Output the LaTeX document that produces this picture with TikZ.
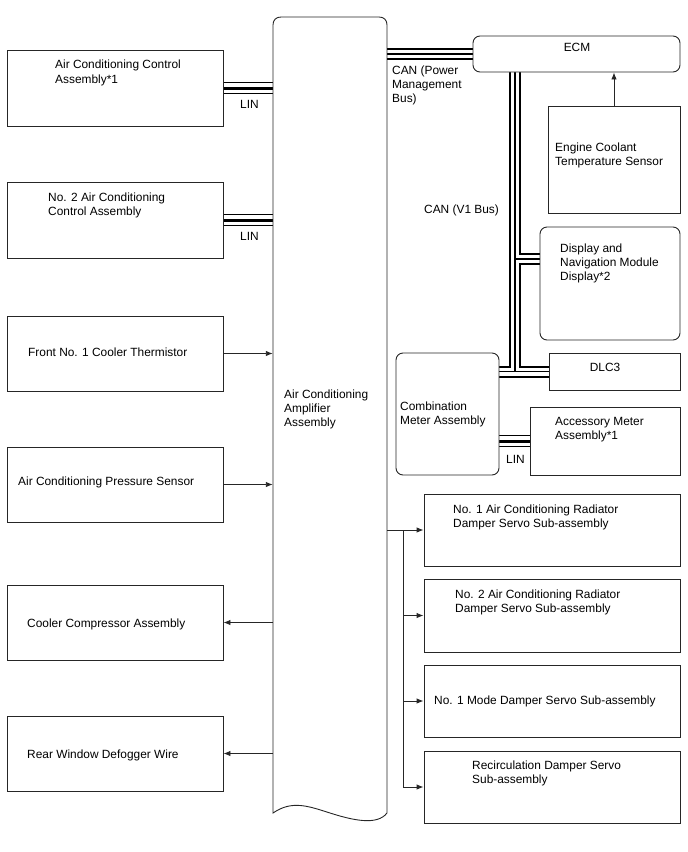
\documentclass[tikz,border=0pt]{standalone}
\usepackage{fontspec}
\setmainfont{Liberation Sans}
\usetikzlibrary{arrows.meta,backgrounds}
\begin{document}
\begin{tikzpicture}[x=1pt,y=-1pt,
  outl/.style={draw=black!85, line width=0.9pt},
  box/.style 2 args={outl, fill=white, inner sep=0pt, minimum width=#1, minimum height=#2},
  rbox/.style 2 args={box={#1}{#2}, rounded corners=7pt},
  ghost/.style 2 args={draw=none, inner sep=0pt, minimum width=#1, minimum height=#2},
  txt/.style={anchor=west, inner sep=0pt, align=left, font=\fontsize{11.9}{14}\selectfont},
  ctxt/.style={txt, anchor=center, align=center},
  arr/.style={outl, -{Latex[length=7pt,width=5.5pt]}},
  wire/.style={outl},
  canO/.style={line width=12pt, black},
  canW/.style={line width=8pt, white},
  canC/.style={line width=1.2pt, black},
  linO/.style={line width=12pt, black},
  linW/.style={line width=10pt, white},
  linC/.style={line width=3pt, black}]
\useasboundingbox (0,0) rectangle (688,852);

% amplifier
\node[ghost={114}{796}] (amp) at (330,415) {};
\draw[outl] (273,813) -- (273,25) .. controls (273,20) and (276,17) .. (281,17)
  -- (379,17) .. controls (384,17) and (387,20) .. (387,25) -- (387,813)
  .. controls (377,826) and (352,820) .. (330,813)
  .. controls (308,806) and (292,800) .. (273,813) -- cycle;
\node[txt] (ampt) at (284,409) {Air Conditioning\\Amplifier\\Assembly};

% left boxes
\node[box={216}{76}] (b1) at (115,88) {};
\node[box={216}{76}] (b2) at (115,220) {};
\node[box={216}{75}] (b3) at (115,353.5) {};
\node[box={216}{75}] (b4) at (115,484.5) {};
\node[box={216}{75}] (b5) at (115,622.5) {};
\node[box={216}{75}] (b6) at (115,753.5) {};
\node[txt] (t1) at (55,73) {Air Conditioning Control\\[1.5pt]Assembly*1};
\node[txt] (t2) at (48,205) {No. 2 Air Conditioning\\Control Assembly};
\node[txt] (t3) at (28,352) {Front No. 1 Cooler Thermistor};
\node[txt] (t4) at (18,482) {Air Conditioning Pressure Sensor};
\node[txt] (t5) at (27,624) {Cooler Compressor Assembly};
\node[txt] (t6) at (27,755) {Rear Window Defogger Wire};

% right boxes
\node[rbox={207}{36}] (ecm) at (576.5,54) {};
\node[ctxt] (ecmt) at (577,47) {ECM};
\node[box={132}{107}] (ect) at (614,159.5) {};
\node[txt] (ectt) at (555,155) {Engine Coolant\\Temperature Sensor};
\node[rbox={140}{113}] (disp) at (610,283.5) {};
\node[txt] (dispt) at (560,263) {Display and\\Navigation Module\\Display*2};
\node[box={131}{37}] (dlc) at (614.5,371.5) {};
\node[ctxt] (dlct) at (605,367) {DLC3};
\node[rbox={103}{122}] (comb) at (447.5,414) {};
\node[txt] (combt) at (400,414) {Combination\\Meter Assembly};
\node[box={150}{68}] (acc) at (605,441) {};
\node[txt] (acct) at (555,430) {Accessory Meter\\Assembly*1};
\node[box={256}{72}] (d1) at (552,530) {};
\node[box={256}{73}] (d2) at (552,615.5) {};
\node[box={256}{72}] (d3) at (552,701) {};
\node[box={256}{72}] (d4) at (552,787) {};
\node[txt] (d1t) at (453,517) {No. 1 Air Conditioning Radiator\\Damper Servo Sub-assembly};
\node[txt] (d2t) at (455,602) {No. 2 Air Conditioning Radiator\\Damper Servo Sub-assembly};
\node[txt] (d3t) at (434,701) {No. 1 Mode Damper Servo Sub-assembly};
\node[txt] (d4t) at (472,773) {Recirculation Damper Servo\\Sub-assembly};

% labels
\node[txt] (lin1) at (240,104) {LIN};
\node[txt] (lin2) at (240,236) {LIN};
\node[txt] (lin3) at (506,459) {LIN};
\node[txt] (canp) at (392,85) {CAN (Power\\Management\\Bus)};
\node[txt] (canv) at (424,210) {CAN (V1 Bus)};

\coordinate (busx) at (515,0);
\coordinate (dj) at (515,259);
\coordinate (sx) at (403,0);

% buses
\begin{pgfonlayer}{background}
  \foreach \s in {canO,canW,canC}{
    \draw[\s] (ecm.west -| amp.east) -- (ecm.west);
    \draw[\s] (ecm.south -| busx) -- (dlc.west -| busx);
    \draw[\s] (dj) -- (dj -| disp.west);
    \draw[\s] (dlc.west -| comb.east) -- (dlc.west);
  }
  \foreach \s in {linO,linW,linC}{
    \draw[\s] (b1.east) -- (b1.east -| amp.west);
    \draw[\s] (b2.east) -- (b2.east -| amp.west);
    \draw[\s] (acc.west -| comb.east) -- (acc.west);
  }
\end{pgfonlayer}

% arrows
\draw[arr] (b3.east) -- (b3.east -| amp.west);
\draw[arr] (b4.east) -- (b4.east -| amp.west);
\draw[arr] (b5.east -| amp.west) -- (b5.east);
\draw[arr] (b6.east -| amp.west) -- (b6.east);
\draw[arr] (ect.north) -- (ect.north |- ecm.south);
\draw[arr] (d1.west -| amp.east) -- (d1.west);
\draw[wire] (d1.west -| sx) -- (d4.west -| sx);
\draw[arr] (d2.west -| sx) -- (d2.west);
\draw[arr] (d3.west -| sx) -- (d3.west);
\draw[arr] (d4.west -| sx) -- (d4.west);
\end{tikzpicture}
\end{document}
